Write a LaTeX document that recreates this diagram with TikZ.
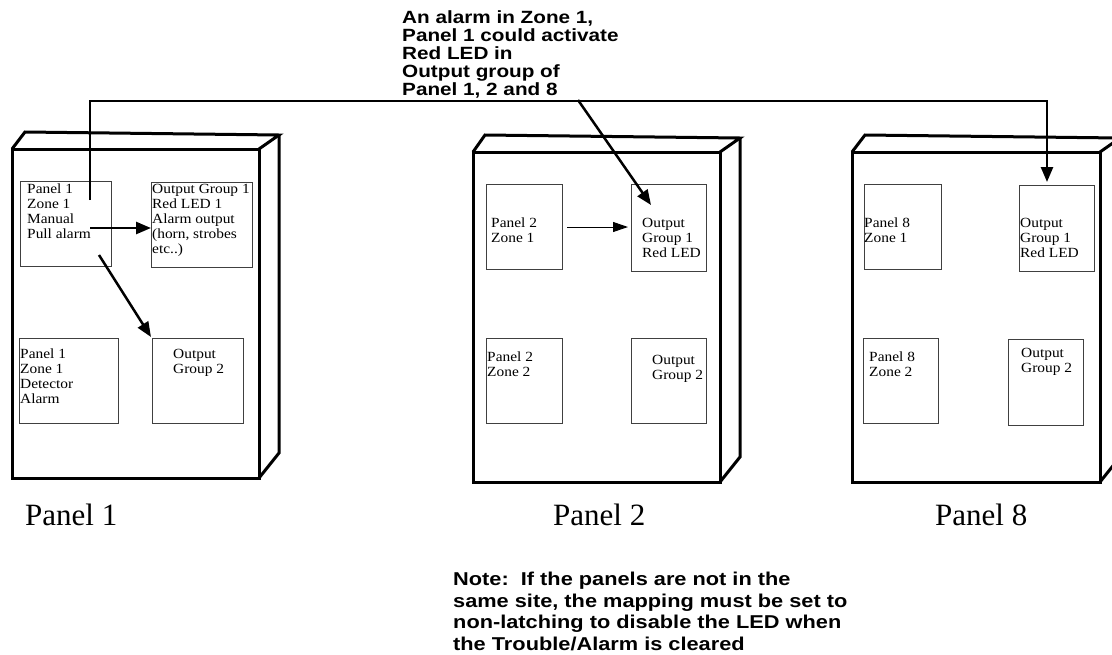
\documentclass[tikz,border=0pt]{standalone}
\usepackage{fontspec}
\setmainfont{Liberation Serif}
\newfontfamily\boxfont[FakeStretch=1.1]{Liberation Serif}
\newfontfamily\notefont[FakeStretch=1.17]{Liberation Sans}
\usetikzlibrary{arrows.meta}
\tikzset{
  panel/.style={line width=3pt, line join=miter},
  ibox/.style={draw=black!75, line width=0.9pt, inner sep=0pt, anchor=north west},
  conn/.style={line width=2.5pt, line join=miter, -{Triangle[length=15pt,width=12pt]}},
  thinconn/.style={line width=1pt, -{Triangle[length=15pt,width=10pt]}},
  itext/.style={anchor=north west, inner sep=0pt, align=left, font=\boxfont\fontsize{14}{15}\selectfont},
  plabel/.style={anchor=base west, inner sep=0pt, font=\fontsize{31}{31}\selectfont},
  btext/.style={anchor=north west, inner sep=0pt, align=left},
}
\newcommand\ibx[5]{\node[ibox, minimum width=#4pt, minimum height=#5pt] (#1) at (#2,#3) {};}
\begin{document}
\begin{tikzpicture}[x=1pt,y=-1pt]
\useasboundingbox (0,0) rectangle (1112,654);
\clip (0,0) rectangle (1112,654);
\fill[white] (0,0) rectangle (1112,654);

% Panel 1 cabinet
\draw[panel] (12,149) rectangle (259,478);
\draw[panel] (12,149) -- (25,132) -- (279,135) -- (259,149);
\draw[panel] (279,135) -- (279,453) -- (259,478);
% Panel 2 cabinet
\draw[panel] (473,152) rectangle (720,482);
\draw[panel] (473,152) -- (485,135) -- (740,138) -- (720,152);
\draw[panel] (740,138) -- (740,457) -- (720,482);
% Panel 8 cabinet
\draw[panel] (852,152) rectangle (1100,482);
\draw[panel] (852,152) -- (865,135) -- (1120,138) -- (1100,152);
\draw[panel] (1120,138) -- (1120,457) -- (1100,482);

% Panel 1 boxes
\ibx{p1a}{20}{181}{91}{85}
\ibx{p1b}{151}{182}{101}{85}
\ibx{p1c}{19}{338}{99}{85}
\ibx{p1d}{152}{338}{91}{85}
\node[itext] (t1a) at (27,184) {Panel 1\\Zone 1\\Manual\\Pull alarm};
\node[itext] (t1b) at (152,184) {Output Group 1\\Red LED 1\\Alarm output\\(horn, strobes\\etc..)};
\node[itext] (t1c) at (20,349) {Panel 1\\Zone 1\\Detector\\Alarm};
\node[itext] (t1d) at (173,349) {Output\\Group 2};

% Panel 2 boxes
\ibx{p2a}{486}{184}{76}{85}
\ibx{p2b}{631}{184}{75}{87}
\ibx{p2c}{486}{338}{76}{85}
\ibx{p2d}{631}{338}{75}{85}
\node[itext] (t2a) at (491,218) {Panel 2\\Zone 1};
\node[itext] (t2b) at (642,218) {Output\\Group 1\\Red LED};
\node[itext] (t2c) at (487,352) {Panel 2\\Zone 2};
\node[itext] (t2d) at (652,355) {Output\\Group 2};

% Panel 8 boxes
\ibx{p8a}{864}{184}{77}{85}
\ibx{p8b}{1019}{185}{75}{86}
\ibx{p8c}{863}{338}{75}{85}
\ibx{p8d}{1008}{339}{75}{86}
\node[itext] (t8a) at (864,218) {Panel 8\\Zone 1};
\node[itext] (t8b) at (1020,218) {Output\\Group 1\\Red LED};
\node[itext] (t8c) at (869,352) {Panel 8\\Zone 2};
\node[itext] (t8d) at (1021,348) {Output\\Group 2};

% Panel labels
\node[plabel] (l1) at (25,525) {Panel 1};
\node[plabel] (l2) at (553,525) {Panel 2};
\node[plabel] (l8) at (935,525) {Panel 8};

% Top explanatory text
\node[btext, font=\notefont\bfseries\fontsize{17.7}{18}\selectfont] (top) at (402,10)
  {An alarm in Zone 1,\\Panel 1 could activate\\Red LED in\\Output group of\\Panel 1, 2 and 8};

% Note
\node[btext, font=\notefont\bfseries\fontsize{18.6}{21.5}\selectfont] (note) at (453,572)
  {Note:\ \ If the panels are not in the\\same site, the mapping must be set to\\non-latching to disable the LED when\\the Trouble/Alarm is cleared};

% Connector coordinates
\coordinate (s1) at (90,200);
\coordinate (h1) at (90,101);
\coordinate (h8) at (1047,101);
\coordinate (e8) at (1047,182);
\coordinate (d0) at (578,100);
\coordinate (e2) at (651,205);
\coordinate (a1s) at (90,228);
\coordinate (a1e) at (151,228);
\coordinate (b1s) at (99,255);
\coordinate (b1e) at (151,337);
\coordinate (c2s) at (567,227);
\coordinate (c2e) at (628,227);

% Connectors
\draw[conn] (s1) -- (h1) -- (h8) -- (e8);
\draw[conn] (d0) -- (e2);
\draw[conn] (a1s) -- (a1e);
\draw[conn] (b1s) -- (b1e);
\draw[thinconn] (c2s) -- (c2e);
\end{tikzpicture}
\end{document}
